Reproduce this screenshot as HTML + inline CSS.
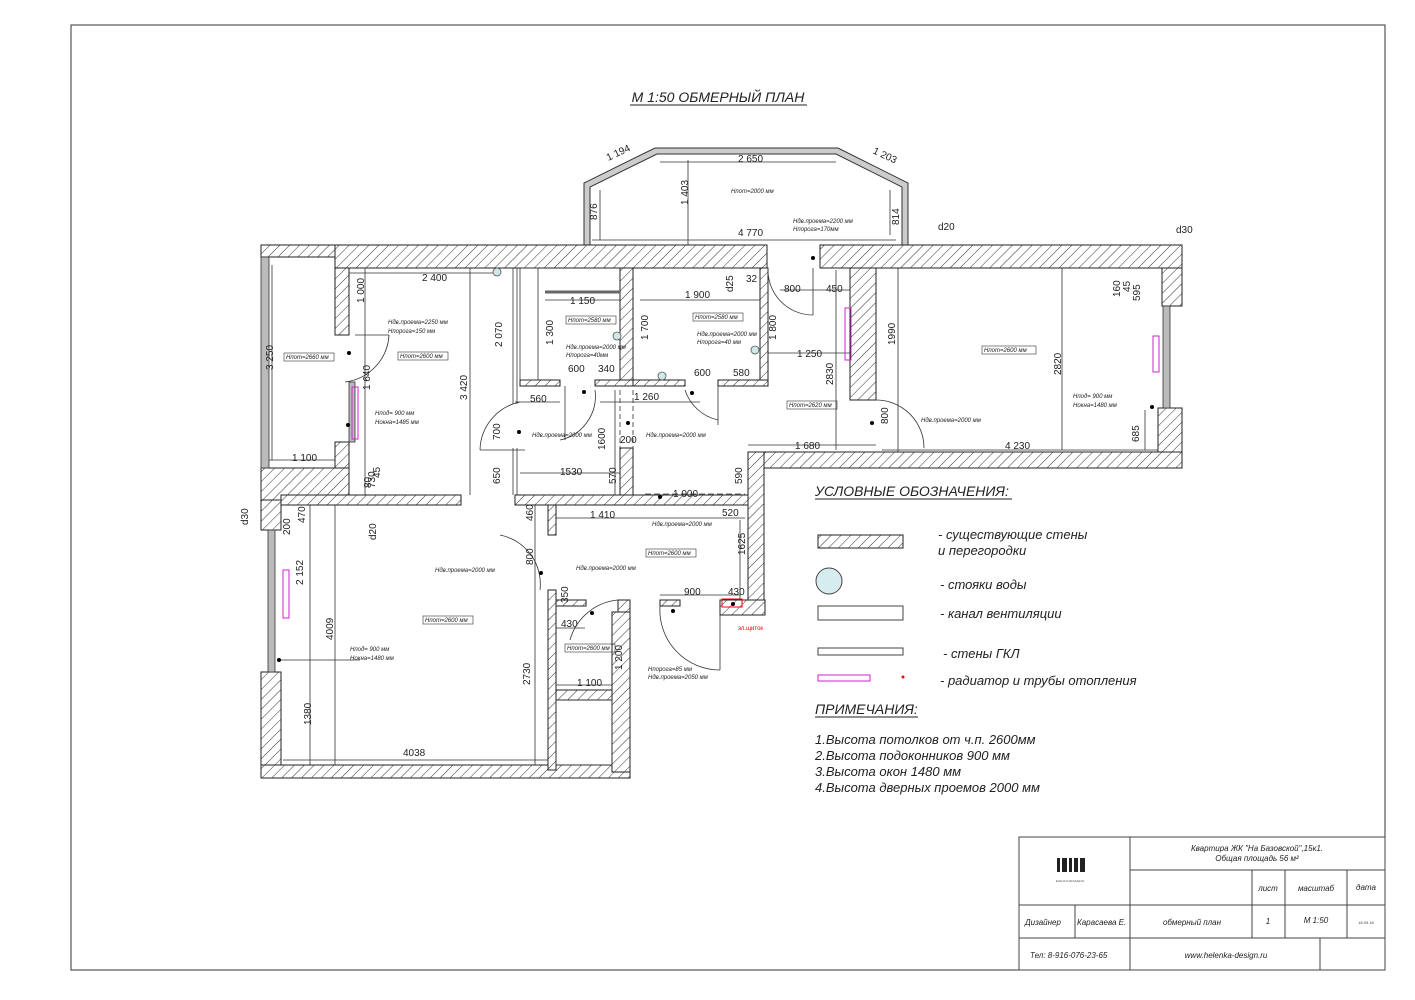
<!DOCTYPE html>
<html><head><meta charset="utf-8"><style>
html,body{margin:0;padding:0;background:#fff;}
svg{display:block;font-family:"Liberation Sans",sans-serif;}
.t{font-size:10px;fill:#222;}
.s{font-size:6px;font-style:italic;fill:#222;}
.it{font-style:italic;}
</style></head><body>
<svg width="1415" height="1000" viewBox="0 0 1415 1000" xmlns="http://www.w3.org/2000/svg">
<defs>
<pattern id="h" width="7" height="7" patternUnits="userSpaceOnUse" patternTransform="rotate(45)">
<rect width="7" height="7" fill="#fff"/><line x1="0" y1="0" x2="0" y2="7" stroke="#333" stroke-width="1"/>
</pattern>
</defs>
<rect x="71" y="25" width="1314" height="945" fill="none" stroke="#333" stroke-width="1"/>
<text x="718" y="102" text-anchor="middle" font-size="14" class="it" fill="#222">М 1:50 ОБМЕРНЫЙ ПЛАН</text>
<line x1="630" y1="105" x2="807" y2="105" stroke="#222"/>

<!-- bay window -->
<g fill="#ccc" stroke="#333" stroke-width="1">
<polygon points="584,245 584,183 655,148 838,148 908,183 908,245 902,245 902,187 836,154 657,154 590,187 590,245"/>
</g>
<g stroke="#333" stroke-width="0.8" fill="none">
<line x1="600" y1="240" x2="600" y2="190"/><line x1="592" y1="240" x2="896" y2="240"/>
<line x1="688" y1="160" x2="688" y2="245"/><line x1="660" y1="162" x2="836" y2="162"/>
<line x1="890" y1="190" x2="890" y2="235"/>
<line x1="272" y1="265" x2="272" y2="460"/><line x1="268" y1="460" x2="345" y2="460"/>
<line x1="348" y1="273" x2="500" y2="273"/><line x1="365" y1="268" x2="365" y2="495"/>
<line x1="470" y1="268" x2="470" y2="495"/><line x1="545" y1="300" x2="620" y2="300"/>
<line x1="640" y1="300" x2="760" y2="300"/><line x1="515" y1="402" x2="560" y2="402"/>
<line x1="600" y1="402" x2="700" y2="402"/><line x1="520" y1="473" x2="620" y2="473"/>
<line x1="615" y1="390" x2="615" y2="495"/><line x1="748" y1="445" x2="876" y2="445"/>
<line x1="768" y1="353" x2="850" y2="353"/><line x1="780" y1="290" x2="850" y2="290"/>
<line x1="836" y1="270" x2="836" y2="450"/><line x1="898" y1="268" x2="898" y2="455"/>
<line x1="882" y1="450" x2="1160" y2="450"/><line x1="1062" y1="268" x2="1062" y2="450"/>
<line x1="1145" y1="410" x2="1145" y2="450"/><line x1="555" y1="518" x2="745" y2="518"/>
<line x1="310" y1="505" x2="310" y2="765"/><line x1="335" y1="505" x2="335" y2="765"/>
<line x1="283" y1="760" x2="548" y2="760"/><line x1="535" y1="505" x2="535" y2="765"/>
<line x1="277" y1="660" x2="360" y2="660"/><line x1="660" y1="595" x2="740" y2="595"/>
<line x1="556" y1="685" x2="612" y2="685"/><line x1="556" y1="628" x2="585" y2="628"/>
<line x1="616" y1="655" x2="616" y2="690"/><line x1="740" y1="520" x2="740" y2="600"/>
<line x1="310" y1="495" x2="345" y2="495"/>
</g>

<!-- walls hatched -->
<g fill="url(#h)" stroke="#222" stroke-width="1">
<rect x="261" y="245" width="80" height="12"/>
<rect x="335" y="245" width="432" height="23"/>
<rect x="335" y="268" width="14" height="67"/>
<rect x="335" y="442" width="14" height="30"/>
<rect x="261" y="468" width="88" height="32"/>
<rect x="820" y="245" width="362" height="23"/>
<rect x="1162" y="268" width="20" height="38"/>
<rect x="1158" y="408" width="24" height="60"/>
<rect x="762" y="452" width="420" height="16"/>
<rect x="850" y="268" width="26" height="132"/>
<rect x="760" y="268" width="8" height="118"/>
<rect x="620" y="268" width="13" height="118"/>
<rect x="520" y="380" width="40" height="6"/>
<rect x="595" y="380" width="38" height="6"/>
<rect x="633" y="380" width="52" height="6"/>
<rect x="718" y="380" width="50" height="6"/>
<rect x="620" y="448" width="13" height="47"/>
<rect x="748" y="452" width="16" height="163"/>
<rect x="281" y="495" width="180" height="10"/>
<rect x="515" y="495" width="233" height="10"/>
<rect x="261" y="500" width="20" height="30"/>
<rect x="261" y="672" width="20" height="106"/>
<rect x="261" y="765" width="369" height="13"/>
<rect x="548" y="505" width="8" height="30"/>
<rect x="548" y="590" width="8" height="180"/>
<rect x="556" y="690" width="56" height="10"/>
<rect x="612" y="612" width="18" height="160"/>
<rect x="556" y="600" width="30" height="6"/>
<rect x="618" y="600" width="12" height="12"/>
<rect x="660" y="600" width="20" height="6"/>
<rect x="720" y="600" width="45" height="15"/>
</g>
<!-- glazing -->
<g fill="#bbb" stroke="#333" stroke-width="0.8">
<rect x="261" y="257" width="8" height="211"/>
<rect x="1163" y="306" width="7" height="102"/>
<rect x="268" y="530" width="7" height="142"/>
<rect x="349" y="382" width="6" height="60"/>
</g>
<g fill="none" stroke="#333" stroke-width="0.8">
<rect x="520" y="268" width="18" height="112"/>
<rect x="556" y="700" width="56" height="65"/>
<line x1="513" y1="268" x2="513" y2="404"/><line x1="517" y1="268" x2="517" y2="404"/>
<line x1="513" y1="448" x2="513" y2="495"/><line x1="517" y1="448" x2="517" y2="495"/>
<line x1="545" y1="292" x2="620" y2="292" stroke-width="3" stroke="#666"/>
<!-- door arcs -->
<path d="M389 335 A50 50 0 0 1 345 382"/><line x1="355" y1="335" x2="389" y2="335"/>
<path d="M480 450 A50 50 0 0 1 520 402"/><line x1="480" y1="450" x2="525" y2="450"/>
<path d="M560 440 A45 45 0 0 0 595 390"/><line x1="565" y1="386" x2="565" y2="440"/>
<path d="M685 390 A45 45 0 0 0 718 420"/><line x1="718" y1="386" x2="718" y2="425"/>
<path d="M768 268 A45 45 0 0 0 813 315"/><line x1="813" y1="268" x2="813" y2="315"/>
<path d="M876 400 A48 48 0 0 1 924 448"/>
<path d="M500 535 A50 50 0 0 1 540 590"/>
<path d="M618 600 A55 55 0 0 0 570 640"/>
<path d="M660 606 A60 60 0 0 0 720 670"/><line x1="720" y1="615" x2="720" y2="670"/>
<line x1="645" y1="494" x2="745" y2="494" stroke-dasharray="6 3"/>
<line x1="620" y1="390" x2="620" y2="448" stroke-dasharray="5 3"/>
<line x1="633" y1="390" x2="633" y2="448" stroke-dasharray="5 3"/>
</g>
<g fill="#cfe8ea" stroke="#555" stroke-width="0.8">
<circle cx="497" cy="272" r="4"/><circle cx="617" cy="336" r="4"/><circle cx="662" cy="376" r="4"/><circle cx="755" cy="350" r="4"/>
</g>
<g fill="none" stroke="#c2c" stroke-width="1">
<rect x="352" y="387" width="6" height="52"/><rect x="845" y="308" width="6" height="52"/><rect x="1153" y="336" width="6" height="36"/><rect x="283" y="570" width="6" height="48"/>
</g>
<rect x="722" y="599" width="20" height="8" fill="none" stroke="red"/>
<text x="738" y="630" font-size="6" fill="red">эл.щиток</text>
<g fill="#000"><circle cx="349" cy="353" r="2"/><circle cx="348" cy="425" r="2"/><circle cx="519" cy="432" r="2"/><circle cx="584" cy="392" r="2"/><circle cx="628" cy="423" r="2"/><circle cx="692" cy="393" r="2"/><circle cx="813" cy="258" r="2"/><circle cx="872" cy="423" r="2"/><circle cx="1152" cy="407" r="2"/><circle cx="279" cy="660" r="2"/><circle cx="541" cy="573" r="2"/><circle cx="592" cy="613" r="2"/><circle cx="673" cy="611" r="2"/><circle cx="733" cy="604" r="2"/><circle cx="660" cy="497" r="2"/></g>

<!-- dimension text -->
<g class="t">
<text x="606" y="157" transform="rotate(-25 616 154)">1 194</text>
<text x="738" y="162">2 650</text>
<text x="870" y="157" transform="rotate(25 880 160)">1 203</text>
<text x="738" y="236">4 770</text>
<text x="597" y="220" transform="rotate(-90 597 220)">876</text>
<text x="688" y="205" transform="rotate(-90 688 205)">1 403</text>
<text x="899" y="225" transform="rotate(-90 899 225)">814</text>
<text x="938" y="230">d20</text>
<text x="1176" y="233">d30</text>
<text x="422" y="281">2 400</text>
<text x="570" y="304">1 150</text>
<text x="685" y="298">1 900</text>
<text x="726" y="285" transform="rotate(-90 733 285)">d25</text>
<text x="746" y="282">32</text>
<text x="784" y="292">800</text>
<text x="826" y="292">450</text>
<text x="797" y="357">1 250</text>
<text x="364" y="303" transform="rotate(-90 364 303)">1 000</text>
<text x="273" y="370" transform="rotate(-90 273 370)">3 250</text>
<text x="502" y="347" transform="rotate(-90 502 347)">2 070</text>
<text x="467" y="400" transform="rotate(-90 467 400)">3 420</text>
<text x="553" y="345" transform="rotate(-90 553 345)">1 300</text>
<text x="648" y="340" transform="rotate(-90 648 340)">1 700</text>
<text x="776" y="340" transform="rotate(-90 776 340)">1 800</text>
<text x="833" y="385" transform="rotate(-90 833 385)">2830</text>
<text x="895" y="345" transform="rotate(-90 895 345)">1990</text>
<text x="1061" y="375" transform="rotate(-90 1061 375)">2820</text>
<text x="370" y="390" transform="rotate(-90 370 390)">1 640</text>
<text x="568" y="372">600</text><text x="598" y="372">340</text>
<text x="694" y="376">600</text><text x="733" y="376">580</text>
<text x="530" y="402">560</text><text x="634" y="400">1 260</text>
<text x="500" y="440" transform="rotate(-90 500 440)">700</text>
<text x="500" y="484" transform="rotate(-90 500 484)">650</text>
<text x="605" y="450" transform="rotate(-90 605 450)">1600</text>
<text x="620" y="443">200</text>
<text x="616" y="484" transform="rotate(-90 616 484)">570</text>
<text x="560" y="475">1530</text>
<text x="742" y="484" transform="rotate(-90 742 484)">590</text>
<text x="795" y="449">1 680</text>
<text x="1005" y="449">4 230</text>
<text x="888" y="424" transform="rotate(-90 888 424)">800</text>
<text x="1139" y="442" transform="rotate(-90 1139 442)">685</text>
<text x="1120" y="297" transform="rotate(-90 1120 297)">160</text>
<text x="1130" y="292" transform="rotate(-90 1130 292)">45</text>
<text x="1140" y="301" transform="rotate(-90 1140 301)">595</text>
<text x="292" y="461">1 100</text>
<text x="375" y="488" transform="rotate(-90 375 488)">730</text>
<text x="373" y="490" transform="rotate(-90 371 490)">80</text>
<text x="380" y="478" transform="rotate(-90 380 478)">45</text>
<text x="673" y="497">1 000</text>
<text x="590" y="518">1 410</text>
<text x="722" y="516">520</text>
<text x="533" y="521" transform="rotate(-90 533 521)">460</text>
<text x="533" y="565" transform="rotate(-90 533 565)">800</text>
<text x="745" y="555" transform="rotate(-90 745 555)">1625</text>
<text x="684" y="595">900</text><text x="728" y="595">430</text>
<text x="568" y="603" transform="rotate(-90 568 603)">350</text>
<text x="561" y="627">430</text>
<text x="622" y="670" transform="rotate(-90 622 670)">1 200</text>
<text x="577" y="686">1 100</text>
<text x="530" y="685" transform="rotate(-90 530 685)">2730</text>
<text x="303" y="585" transform="rotate(-90 303 585)">2 152</text>
<text x="333" y="640" transform="rotate(-90 333 640)">4009</text>
<text x="311" y="725" transform="rotate(-90 311 725)">1380</text>
<text x="403" y="756">4038</text>
<text x="290" y="535" transform="rotate(-90 290 535)">200</text>
<text x="305" y="523" transform="rotate(-90 305 523)">470</text>
<text x="248" y="525" transform="rotate(-90 248 525)">d30</text>
<text x="376" y="540" transform="rotate(-90 376 540)">d20</text>
</g>
<g class="s">
<rect x="284" y="353" width="50" height="8" fill="none" stroke="#333" stroke-width=".6"/><text x="286" y="359">Hпот=2660 мм</text>
<rect x="398" y="352" width="50" height="8" fill="none" stroke="#333" stroke-width=".6"/><text x="400" y="358">Hпот=2600 мм</text>
<rect x="566" y="316" width="50" height="8" fill="none" stroke="#333" stroke-width=".6"/><text x="568" y="322">Hпот=2580 мм</text>
<rect x="693" y="313" width="50" height="8" fill="none" stroke="#333" stroke-width=".6"/><text x="695" y="319">Hпот=2580 мм</text>
<rect x="787" y="401" width="50" height="8" fill="none" stroke="#333" stroke-width=".6"/><text x="789" y="407">Hпот=2620 мм</text>
<rect x="982" y="346" width="54" height="8" fill="none" stroke="#333" stroke-width=".6"/><text x="984" y="352">Hпот=2600 мм</text>
<rect x="423" y="616" width="50" height="8" fill="none" stroke="#333" stroke-width=".6"/><text x="425" y="622">Hпот=2600 мм</text>
<rect x="646" y="549" width="50" height="8" fill="none" stroke="#333" stroke-width=".6"/><text x="648" y="555">Hпот=2600 мм</text>
<rect x="565" y="644" width="50" height="8" fill="none" stroke="#333" stroke-width=".6"/><text x="567" y="650">Hпот=2600 мм</text>
<text x="388" y="324">Hдв.проема=2250 мм</text><text x="388" y="333">Hпорога=150 мм</text>
<text x="375" y="415">Hпод= 900 мм</text><text x="375" y="424">Hокна=1485 мм</text>
<text x="532" y="437">Hдв.проема=2000 мм</text>
<text x="566" y="349">Hдв.проема=2000 мм</text><text x="566" y="357">Hпорога=40мм</text>
<text x="697" y="336">Hдв.проема=2000 мм</text><text x="697" y="344">Hпорога=40 мм</text>
<text x="646" y="437">Hдв.проема=2000 мм</text>
<text x="793" y="223">Hдв.проема=2200 мм</text><text x="793" y="231">Hпорога=170мм</text>
<text x="921" y="422">Hдв.проема=2000 мм</text>
<text x="1073" y="398">Hпод= 900 мм</text><text x="1073" y="407">Hокна=1480 мм</text>
<text x="652" y="526">Hдв.проема=2000 мм</text>
<text x="435" y="572">Hдв.проема=2000 мм</text>
<text x="576" y="570">Hдв.проема=2000 мм</text>
<text x="350" y="651">Hпод= 900 мм</text><text x="350" y="660">Hокна=1480 мм</text>
<text x="648" y="671">Hпорога=85 мм</text><text x="648" y="679">Hдв.проема=2050 мм</text>
<text x="731" y="193">Hпот=2000 мм</text>
</g>

<!-- legend -->
<g fill="#222" font-size="14" class="it">
<text x="815" y="496">УСЛОВНЫЕ ОБОЗНАЧЕНИЯ:</text>
<text x="815" y="714">ПРИМЕЧАНИЯ:</text>
</g>
<line x1="815" y1="499" x2="1012" y2="499" stroke="#222"/>
<line x1="815" y1="717" x2="918" y2="717" stroke="#222"/>
<rect x="818" y="535" width="85" height="13" fill="url(#h)" stroke="#222"/>
<circle cx="829" cy="581" r="13" fill="#d7ecee" stroke="#444"/>
<rect x="818" y="606" width="85" height="14" fill="#fff" stroke="#444"/>
<rect x="818" y="648" width="85" height="7" fill="#fff" stroke="#444"/>
<rect x="818" y="675" width="52" height="6" fill="none" stroke="#c2c"/>
<circle cx="903" cy="677" r="1.5" fill="red"/>
<g fill="#222" font-size="13" class="it">
<text x="938" y="539">- существующие стены</text>
<text x="938" y="555">и перегородки</text>
<text x="940" y="589">- стояки воды</text>
<text x="940" y="618">- канал вентиляции</text>
<text x="943" y="658">- стены ГКЛ</text>
<text x="940" y="685">- радиатор и трубы отопления</text>
<text x="815" y="744">1.Высота потолков от ч.п. 2600мм</text>
<text x="815" y="760">2.Высота подоконников 900 мм</text>
<text x="815" y="776">3.Высота окон 1480 мм</text>
<text x="815" y="792">4.Высота дверных проемов 2000 мм</text>
</g>

<!-- title block -->
<g fill="none" stroke="#444" stroke-width="1">
<rect x="1019" y="837" width="366" height="133"/>
<line x1="1130" y1="837" x2="1130" y2="970"/>
<line x1="1130" y1="870" x2="1385" y2="870"/>
<line x1="1019" y1="905" x2="1385" y2="905"/>
<line x1="1019" y1="938" x2="1385" y2="938"/>
<line x1="1075" y1="905" x2="1075" y2="938"/>
<line x1="1252" y1="870" x2="1252" y2="938"/>
<line x1="1285" y1="870" x2="1285" y2="938"/>
<line x1="1347" y1="870" x2="1347" y2="938"/>
<line x1="1320" y1="938" x2="1320" y2="970"/>
</g>
<g fill="#222"><rect x="1057" y="858" width="3" height="14"/><rect x="1062" y="858" width="5" height="14"/><rect x="1069" y="858" width="3" height="14"/><rect x="1074" y="858" width="4" height="14"/><rect x="1080" y="858" width="5" height="14"/></g>
<text x="1070" y="882" font-size="3" text-anchor="middle" fill="#555">ELENA KARASAEVA</text>
<g fill="#222" font-size="8" class="it">
<text x="1257" y="851" text-anchor="middle">Квартира ЖК "На Базовской",15к1.</text>
<text x="1257" y="861" text-anchor="middle">Общая площадь 56 м²</text>
<text x="1268" y="891" text-anchor="middle">лист</text>
<text x="1316" y="891" text-anchor="middle">масштаб</text>
<text x="1366" y="890" text-anchor="middle">дата</text>
<text x="1025" y="925">Дизайнер</text>
<text x="1077" y="925">Карасаева Е.</text>
<text x="1192" y="925" text-anchor="middle">обмерный план</text>
<text x="1268" y="924" text-anchor="middle">1</text>
<text x="1316" y="923" text-anchor="middle">М 1:50</text>
<text x="1030" y="958">Тел: 8-916-076-23-65</text>
<text x="1226" y="958" text-anchor="middle">www.helenka-design.ru</text>
</g>
<text x="1366" y="924" font-size="4" text-anchor="middle" fill="#444">18.09.18</text>
</svg>
</body></html>
